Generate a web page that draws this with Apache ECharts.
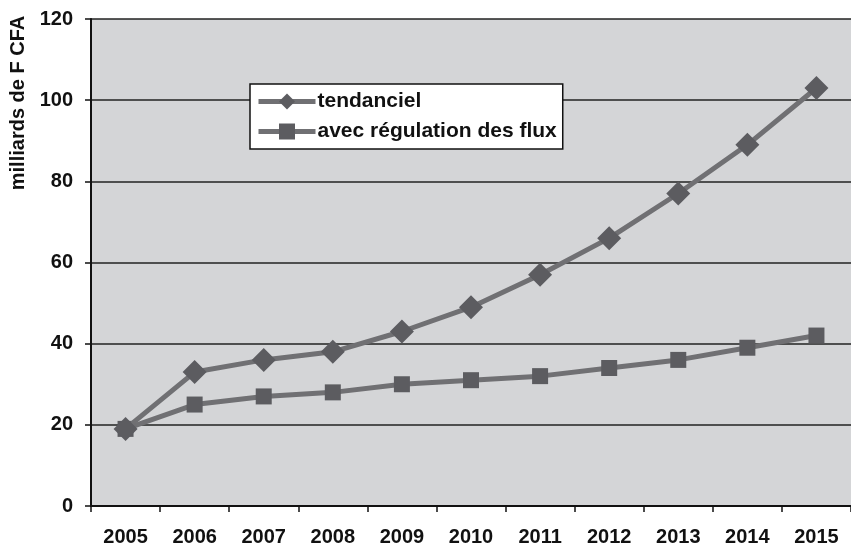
<!DOCTYPE html>
<html>
<head>
<meta charset="utf-8">
<script src="https://cdn.jsdelivr.net/npm/echarts@6/dist/echarts.min.js"></script>
<style>
  html, body { margin: 0; padding: 0; background: #fff; }
  #chart { width: 851px; height: 547px; }
</style>
</head>
<body>
<div id="chart"></div>
<script>
// années
const years = ['2005', '2006', '2007', '2008', '2009', '2010', '2011', '2012', '2013', '2014', '2015'];
// milliards de F CFA
const tendanciel = [19, 33, 36, 38, 43, 49, 57, 66, 77, 89, 103];
const regulation = [19, 25, 27, 28, 30, 31, 32, 34, 36, 39, 42];

const lineColor = '#707073';
const markColor = '#5c5c60';
const font = 'Liberation Sans, Arial, sans-serif';

const chart = echarts.init(document.getElementById('chart'));

chart.setOption({
  animation: false,
  textStyle: { fontFamily: font },
  grid: {
    left: 91,
    top: 19,
    width: 770,
    height: 487.5,
    show: true,
    backgroundColor: '#d4d5d7',
    borderWidth: 0
  },
  legend: {
    orient: 'vertical',
    left: 250,
    top: 84,
    backgroundColor: '#ffffff',
    borderColor: '#111',
    borderWidth: 1.5,
    padding: [7, 6, 7, 6],
    itemGap: 9,
    itemWidth: 57,
    itemHeight: 20,
    lineStyle: { width: 5 },
    textStyle: { fontSize: 21, fontWeight: 'bold', color: '#111', fontFamily: font, padding: [0, 0, 0, -3] },
    data: ['tendanciel', 'avec régulation des flux']
  },
  graphic: [{
    type: 'text',
    x: 18,
    y: 103,
    rotation: Math.PI / 2,
    style: {
      text: 'milliards de F CFA',
      fill: '#111',
      font: 'bold 20px ' + font,
      align: 'center',
      verticalAlign: 'middle'
    }
  }],
  xAxis: {
    type: 'category',
    data: years,
    boundaryGap: true,
    axisLine: { lineStyle: { color: '#111', width: 2 } },
    axisTick: { show: true, length: 6, lineStyle: { color: '#111', width: 1.5 } },
    axisLabel: { color: '#111', fontSize: 20, fontWeight: 'bold', margin: 21, fontFamily: font },
    splitLine: { show: false }
  },
  yAxis: {
    type: 'value',
    min: 0,
    max: 120,
    interval: 20,
    axisLine: { show: true, lineStyle: { color: '#111', width: 2 } },
    axisTick: { show: true, length: 6, lineStyle: { color: '#111', width: 1.5 } },
    axisLabel: { color: '#111', fontSize: 20, fontWeight: 'bold', margin: 18, fontFamily: font },
    splitLine: { show: true, lineStyle: { color: '#222', width: 1.5 } }
  },
  series: [
    {
      name: 'tendanciel',
      type: 'line',
      data: tendanciel,
      symbol: 'diamond',
      symbolSize: 24,
      lineStyle: { color: lineColor, width: 5 },
      itemStyle: { color: markColor },
      z: 3
    },
    {
      name: 'avec régulation des flux',
      type: 'line',
      data: regulation,
      symbol: 'rect',
      symbolSize: 16,
      lineStyle: { color: lineColor, width: 5 },
      itemStyle: { color: markColor },
      z: 2
    }
  ]
});
</script>
</body>
</html>
